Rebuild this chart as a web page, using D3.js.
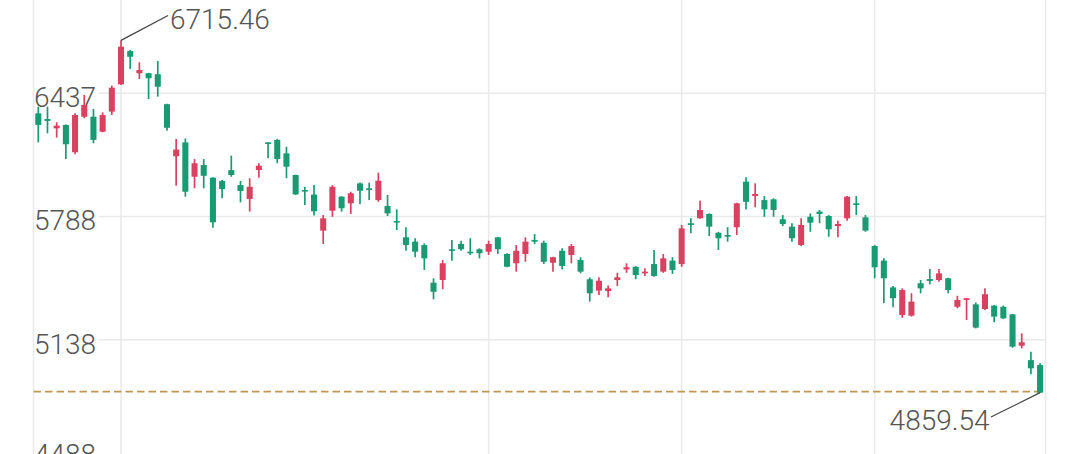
<!DOCTYPE html>
<html>
<head>
<meta charset="utf-8">
<script src="https://cdn.jsdelivr.net/npm/d3@7"></script>
<style>
html,body{margin:0;padding:0;background:#fff;overflow:hidden;}
svg{display:block;}
</style>
</head>
<body>
<svg id="chart" width="1067" height="454"></svg>
<script>
// ---- data ----
const openV = [6331,6301,6252,6270,6126,6313,6313,6234,6340,6484,
  6659,6542,6542,6537,6379,6105,6178,5997,6059,5992,
  5975,6032,5953,5880,6032,6178,6191,6120,6006,5927,
  5903,5713,5818,5892,5857,5962,5936,5874,5843,5764,
  5678,5655,5637,5439,5453,5615,5643,5602,5615,5602,
  5678,5590,5541,5590,5664,5649,5544,5607,5585,5558,
  5457,5397,5395,5453,5509,5523,5488,5537,5497,5555,
  5537,5752,5778,5801,5702,5690,5731,5971,5895,5874,
  5878,5773,5734,5637,5786,5813,5790,5737,5778,5857,
  5783,5632,5555,5414,5269,5265,5436,5458,5453,5462,
  5312,5348,5325,5300,5318,5312,5272,5107,5031,5005];
const highV = [6366,6366,6284,6272,6331,6428,6354,6336,6477,6715.46,
  6665,6600,6544,6607,6381,6196,6199,6090,6090,5994,
  5980,6108,5975,5989,6068,6179,6196,6155,6008,5944,
  5953,5795,5953,5894,5918,5966,5966,6018,5901,5825,
  5731,5673,5646,5462,5558,5664,5660,5673,5620,5660,
  5680,5594,5637,5678,5695,5660,5576,5620,5643,5573,
  5467,5467,5424,5491,5541,5525,5515,5611,5590,5573,
  5743,5778,5871,5804,5707,5731,5860,5994,5962,5895,
  5883,5795,5752,5778,5804,5822,5795,5765,5895,5895,
  5795,5637,5567,5421,5409,5383,5453,5511,5511,5465,
  5370,5357,5335,5409,5321,5318,5274,5172,5075,5014];
const lowV = [6178,6226,6203,6090,6115,6305,6173,6231,6322,6480,
  6565,6512,6406,6419,6239,5950,5892,5936,5936,5728,
  5883,5997,5862,5813,5992,6094,6068,5989,5901,5848,
  5793,5643,5786,5813,5801,5853,5874,5865,5790,5716,
  5607,5573,5506,5351,5404,5555,5607,5585,5567,5585,
  5590,5520,5497,5549,5643,5537,5497,5509,5541,5488,
  5339,5374,5362,5421,5491,5457,5474,5470,5491,5485,
  5523,5699,5776,5685,5611,5655,5690,5825,5836,5786,
  5786,5737,5655,5632,5707,5752,5681,5678,5765,5795,
  5707,5462,5330,5309,5254,5260,5383,5430,5444,5383,
  5304,5242,5198,5295,5230,5247,5096,5093,4956,4859.54];
const closeV = [6270,6291,6266,6168,6322,6375,6191,6322,6466,6682,
  6629,6559,6516,6471,6255,6140,5918,6068,6002,5757,
  5932,6006,5922,5944,6055,6171,6090,6050,5904,5922,
  5815,5778,5944,5831,5910,5923,5927,5976,5804,5757,
  5637,5602,5567,5391,5541,5607,5615,5594,5594,5643,
  5615,5523,5607,5655,5655,5549,5573,5527,5632,5497,
  5383,5449,5409,5467,5520,5479,5497,5474,5567,5506,
  5725,5743,5822,5734,5673,5681,5857,5865,5906,5825,
  5822,5748,5673,5743,5755,5801,5720,5748,5892,5848,
  5713,5520,5462,5357,5400,5339,5409,5448,5488,5400,
  5348,5357,5202,5378,5260,5251,5102,5125,4988,4859.54];
const tickValues = [6437, 5788, 5138, 4488];
const tickLabels = ["6437", "5788", "5138", "4488"];
const monthGridIndex = [9, 49, 70, 91];
const maxLabel = "6715.46";
const minLabel = "4859.54";

// ---- chart ----
const W = 1067, H = 454;
const svg = d3.select("#chart");
const idx = d3.range(openV.length);
const left = 33.5, right = 1045.5;

const x = d3.scaleBand().domain(idx).range([33.7, 1044.7]).paddingInner(0.34).paddingOuter(0.17);
const y = d3.scaleLinear().domain([4488, 6437]).range([463.2, 93.2]);
const cx = i => x(i) + x.bandwidth() / 2;

const gridColor = "#e9e9e9";
const upColor = "#da4160", downColor = "#1a9a72";
const font = "Roboto, 'Noto Sans', sans-serif";
const textColor = "#555";

// horizontal grid
svg.append("g").selectAll("line").data(tickValues).join("line")
  .attr("x1", left).attr("x2", right)
  .attr("y1", d => y(d)).attr("y2", d => y(d))
  .attr("stroke", gridColor).attr("stroke-width", 1.5);

// vertical grid
const vx = [left, ...monthGridIndex.map(cx), right];
svg.append("g").selectAll("line").data(vx).join("line")
  .attr("x1", d => d).attr("x2", d => d)
  .attr("y1", 0).attr("y2", H)
  .attr("stroke", gridColor).attr("stroke-width", 1.5);

// tick labels with white background (the bottom one sits at the frame edge as in the original)
const lab = svg.append("g");
tickValues.forEach((v, k) => {
  const by = Math.min(y(v) + 14, 464);
  const g = lab.append("g");
  const t = g.append("text").attr("x", 34).attr("y", by)
    .attr("font-family", font).attr("font-size", 28).attr("font-weight", 300)
    .attr("fill", textColor).text(tickLabels[k]);
  const bb = t.node().getBBox();
  g.insert("rect", "text").attr("x", 34.5).attr("y", y(v) - 2)
    .attr("width", bb.width + 2).attr("height", 4).attr("fill", "#fff");
});

// dashed last-price line
const last = closeV[closeV.length - 1];
svg.append("line").attr("x1", left).attr("x2", right)
  .attr("y1", y(last) - 1).attr("y2", y(last) - 1)
  .attr("stroke", "#c09650").attr("stroke-width", 1.6)
  .attr("stroke-dasharray", "7.5,4");

// candles
const cg = svg.append("g");
idx.forEach(i => {
  const o = openV[i], c = closeV[i], h = highV[i], l = lowV[i];
  const col = c >= o ? upColor : downColor;
  cg.append("line").attr("x1", cx(i)).attr("x2", cx(i))
    .attr("y1", y(h)).attr("y2", y(l))
    .attr("stroke", col).attr("stroke-width", 1.7);
  const top = y(Math.max(o, c)), bot = y(Math.min(o, c));
  cg.append("rect").attr("x", x(i)).attr("width", x.bandwidth())
    .attr("y", top).attr("height", Math.max(bot - top, 1.6))
    .attr("fill", col);
});

// max / min annotations
const iMax = d3.maxIndex(highV), iMin = d3.minIndex(lowV);
svg.append("line").attr("x1", cx(iMax)).attr("y1", y(highV[iMax]))
  .attr("x2", 168).attr("y2", 15.5).attr("stroke", "#444").attr("stroke-width", 1.3);
svg.append("text").attr("x", 170).attr("y", 28.5)
  .attr("font-family", font).attr("font-size", 28).attr("font-weight", 300)
  .attr("fill", textColor).text(maxLabel);
svg.append("line").attr("x1", cx(iMin)).attr("y1", y(lowV[iMin]))
  .attr("x2", 991).attr("y2", 417).attr("stroke", "#444").attr("stroke-width", 1.3);
svg.append("text").attr("x", 989.5).attr("y", 429.5).attr("text-anchor", "end")
  .attr("font-family", font).attr("font-size", 28).attr("font-weight", 300)
  .attr("fill", textColor).text(minLabel);
</script>
</body>
</html>
